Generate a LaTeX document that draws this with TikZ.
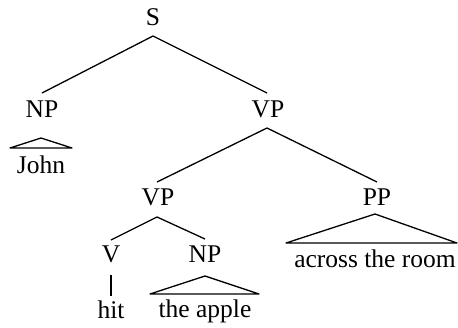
\documentclass[tikz,border=0pt]{standalone}
\usepackage{fontspec}
\setmainfont{Liberation Serif}
\begin{document}
\begin{tikzpicture}[x=1pt,y=-1pt,
  lbl/.style={anchor=base,inner sep=0pt,font=\fontsize{25.5}{30}\selectfont},
  edge/.style={line width=1.3pt,line join=miter},
  tri/.style={line width=1.3pt,line join=round}]
\useasboundingbox (0,0) rectangle (458,327);

% category labels (positioned by baseline)
\node[lbl] (s)   at (153,25)  {S};
\node[lbl] (np)  at (42,117)  {NP};
\node[lbl] (vp)  at (268,117) {VP};
\node[lbl] (vp2) at (158,205) {VP};
\node[lbl] (pp)  at (377,205) {PP};
\node[lbl] (v)   at (111,262) {V};
\node[lbl] (np2) at (205,262) {NP};

% terminal strings
\node[lbl] (john)  at (41,173)  {John};
\node[lbl] (hit)   at (111,318) {hit};
\node[lbl] (apple) at (205,317) {the apple};
\node[lbl] (room)  at (375,267) {across the room};

% attachment points of the branches
\coordinate (sB)   at (153,36);
\coordinate (npT)  at (42,93);
\coordinate (vpT)  at (267,93);
\coordinate (vpB)  at (267,128);
\coordinate (vp2T) at (157,182);
\coordinate (ppT)  at (377,182);
\coordinate (vp2B) at (157,217);
\coordinate (vT)   at (111,240);
\coordinate (np2T) at (205,239);
\coordinate (vB)   at (111,275);
\coordinate (hitT) at (111,296);

% branches
\draw[edge] (npT) -- (sB) -- (vpT);
\draw[edge] (vp2T) -- (vpB) -- (ppT);
\draw[edge] (vT) -- (vp2B) -- (np2T);
\draw[edge] (vB) -- (hitT);

% roof triangles over unanalysed phrases
\draw[tri] (10,148) -- (41,138) -- (72,148) -- cycle;
\draw[tri] (150,294) -- (205,276) -- (259,294) -- cycle;
\draw[tri] (286,243) -- (375,214) -- (457,243) -- cycle;
\end{tikzpicture}
\end{document}
